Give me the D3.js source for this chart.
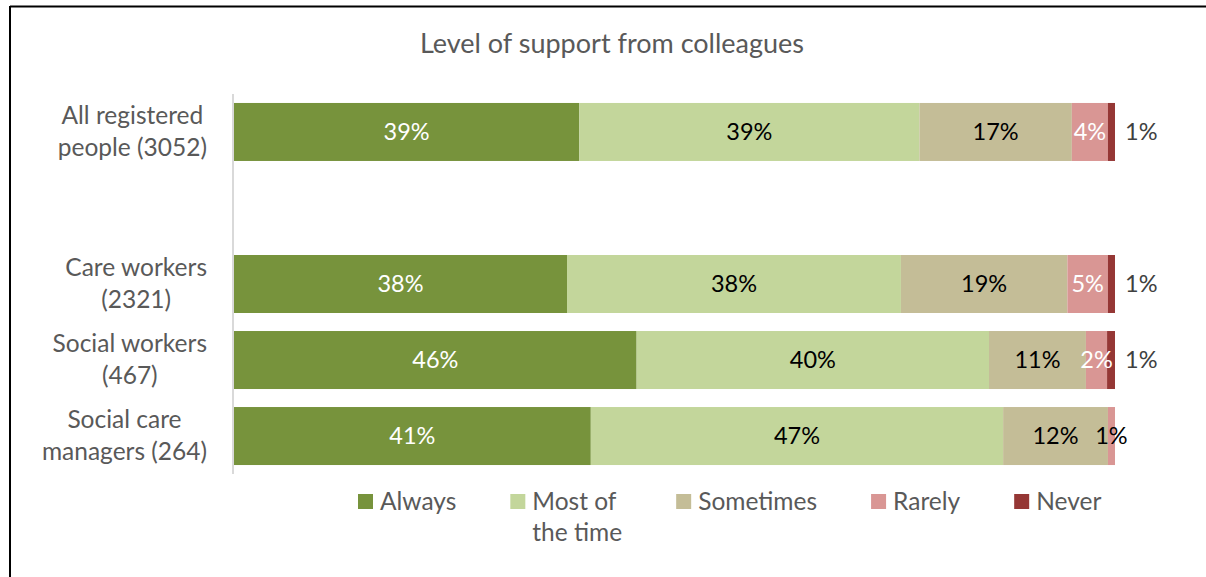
<!DOCTYPE html>
<html>
<head>
<meta charset="utf-8">
<script src="https://cdn.jsdelivr.net/npm/d3@7"></script>
<style>
  html, body { margin: 0; padding: 0; background: #fff; }
  svg { display: block; font-family: Lato, "Open Sans", sans-serif; }
</style>
</head>
<body>
<svg id="chart" width="1206" height="577"></svg>
<script>
// Survey responses: share of people by how often colleagues support them (%)
const title = "Level of support from colleagues";
const categories = [
  ["All registered", "people (3052)"],
  null, // spacer row between the overall bar and the role breakdown
  ["Care workers", "(2321)"],
  ["Social workers", "(467)"],
  ["Social care", "managers (264)"]
];
const seriesNames = ["Always", "Most of the time", "Sometimes", "Rarely", "Never"];
const legendLines = [["Always"], ["Most of", "the time"], ["Sometimes"], ["Rarely"], ["Never"]];
const always    = [39.2, 37.8, 45.7, 40.5];
const mostTime  = [38.6, 37.9, 40.0, 46.8];
const sometimes = [17.3, 18.9, 11.0, 11.9];
const rarely    = [4.1, 4.6, 2.4, 0.8];
const never     = [0.8, 0.8, 0.9, 0.0];
const colors = ["#77933c", "#c3d69b", "#c4bd97", "#d99694", "#953735"];
const labelColors = ["#ffffff", "#000000", "#000000", "#ffffff", "#404040"];

const series = [always, mostTime, sometimes, rarely, never];
const rowKeys = categories.map((c, i) => "r" + i);
const barRows = rowKeys.filter((k, i) => categories[i] !== null);

const svg = d3.select("#chart");
const textGray = "#595959";

// outer frame (top and left edges)
svg.append("line").attr("x1", 10).attr("x2", 1206).attr("y1", 6.5).attr("y2", 6.5)
  .attr("stroke", "#000").attr("stroke-width", 2);
svg.append("line").attr("x1", 10).attr("x2", 10).attr("y1", 6).attr("y2", 577)
  .attr("stroke", "#000").attr("stroke-width", 2);

// title
svg.append("text").attr("x", 612).attr("y", 53).attr("text-anchor", "middle")
  .attr("fill", textGray).style("font-size", "27px").text(title);

const x = d3.scaleLinear().domain([0, 100]).range([234, 1115]);
const y = d3.scaleBand().domain(rowKeys).range([94, 474]).paddingInner(0.237).paddingOuter(0.118);

// category axis line
svg.append("line").attr("x1", 233).attr("x2", 233).attr("y1", 94).attr("y2", 474)
  .attr("stroke", "#d9d9d9").attr("stroke-width", 2);

// stacked segments
const rows = barRows.map((k, j) => {
  const obj = { key: k };
  seriesNames.forEach((s, i) => obj[s] = series[i][j]);
  return obj;
});
const stacked = d3.stack().keys(seriesNames)(rows);

const gBars = svg.append("g");
stacked.forEach((layer, si) => {
  gBars.selectAll(null).data(layer).enter().append("rect")
    .attr("x", d => x(d[0]))
    .attr("y", d => y(d.data.key))
    .attr("width", d => x(d[1]) - x(d[0]))
    .attr("height", y.bandwidth())
    .attr("fill", colors[si]);
});

// value labels
const fmt = v => Math.round(v) + "%";
stacked.forEach((layer, si) => {
  layer.forEach(d => {
    const v = d[1] - d[0];
    if (Math.round(v) === 0) return;
    const cy = y(d.data.key) + y.bandwidth() / 2;
    const last = si === seriesNames.length - 1;
    const narrow = x(d[1]) - x(d[0]) < 12;
    svg.append("text")
      .attr("x", last ? x(d[1]) + 10 : (x(d[0]) + x(d[1])) / 2)
      .attr("y", cy + 8)
      .attr("text-anchor", last ? "start" : "middle")
      .attr("fill", narrow && !last ? "#000000" : labelColors[si])
      .style("font-size", "23.5px")
      .text(fmt(v));
  });
});

// category labels: lines centred on each other, block right-aligned to the axis
categories.forEach((lines, i) => {
  if (!lines) return;
  const cy = y(rowKeys[i]) + y.bandwidth() / 2;
  const t = svg.append("text").attr("fill", textGray).style("font-size", "24.5px")
    .attr("text-anchor", "middle");
  const spans = lines.map((ln, li) => t.append("tspan").attr("y", cy - 8 + li * 32).text(ln));
  const maxW = d3.max(spans, s => s.node().getComputedTextLength());
  spans.forEach(s => s.attr("x", 207 - maxW / 2));
});

// legend
let lx = 358;
const legend = svg.append("g");
seriesNames.forEach((s, i) => {
  legend.append("rect").attr("x", lx).attr("y", 494).attr("width", 15).attr("height", 15)
    .attr("fill", colors[i]);
  const t = legend.append("text").attr("fill", textGray).style("font-size", "24.5px");
  const spans = legendLines[i].map((ln, li) =>
    t.append("tspan").attr("x", lx + 22).attr("y", 510 + li * 31).text(ln));
  const w = d3.max(spans, sp => sp.node().getComputedTextLength());
  lx += 22 + w + 54;
});
</script>
</body>
</html>
